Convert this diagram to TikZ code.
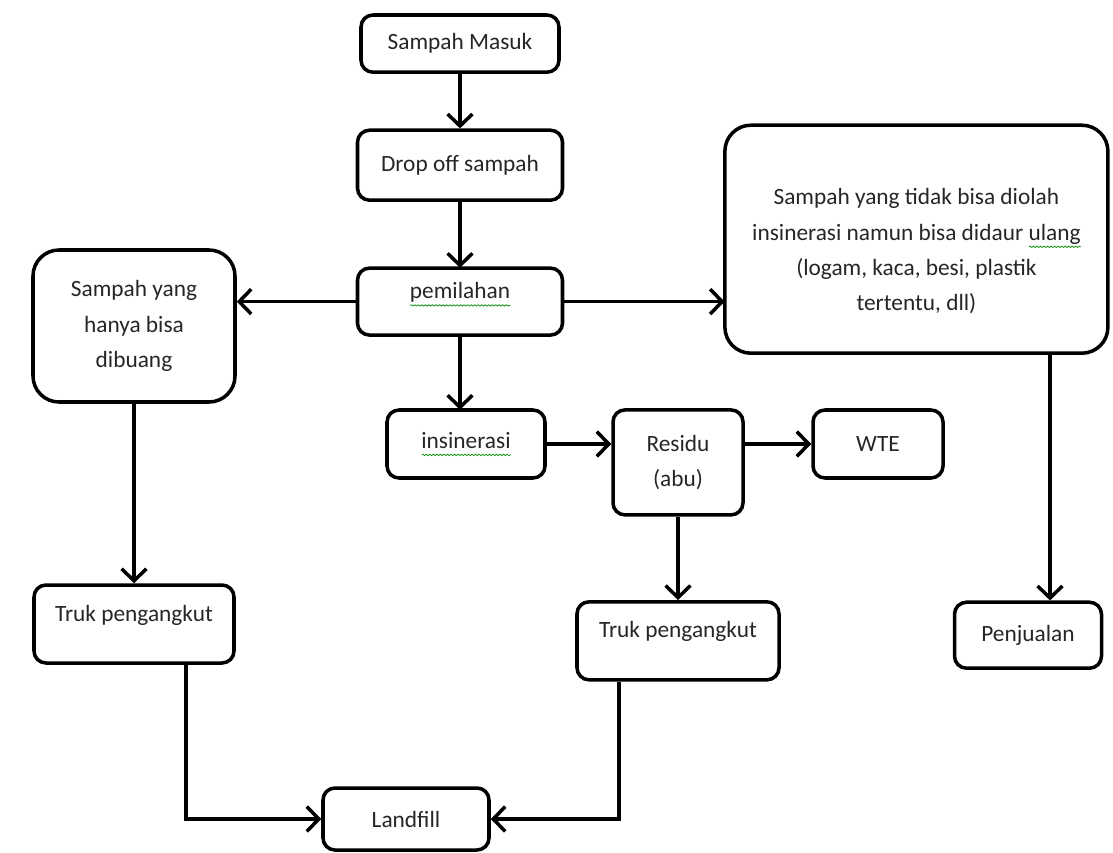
\documentclass[tikz,border=0pt]{standalone}
\usepackage{fontspec}
\setmainfont{Carlito}
\usetikzlibrary{positioning,arrows.meta,decorations.pathmorphing}

% green spell-check squiggle under a word
\newcommand{\spell}[1]{\setbox0=\hbox{#1}\rlap{\tikz[baseline=0pt,sharp corners]\draw[green!55!black,line width=0.5pt,
    decorate,decoration={snake,amplitude=0.5pt,segment length=2.5pt}] (0,-0.17) -- (\the\wd0,-0.17);}\box0}

\begin{document}
\begin{tikzpicture}[node distance=3cm,on grid,
    line width=2.5pt,
    box/.style={draw,rounded corners=0.3cm,align=center,text=black!85,
        font=\fontsize{16.6}{25}\selectfont},
    bigbox/.style={box,rounded corners=0.65cm},
    raised/.style={text height=0.4cm,text depth=0.55cm},
    flow/.style={-{Straight Barb[length=0.3cm,width=0.62cm]}}]
    \useasboundingbox (0,0) rectangle (27.825,-21.3);

    \node[box,minimum width=4.95cm,minimum height=1.43cm] (masuk) at (11.5,-1.09) {Sampah Masuk};
    \node[box,minimum width=5.125cm,minimum height=1.75cm] (drop) [below=3.04cm of masuk] {Drop off sampah};
    \node[box,raised,minimum width=5.125cm,minimum height=1.675cm] (pilah) [below=3.41cm of drop] {\spell{pemilahan}};
    \node[bigbox,minimum width=5.05cm,minimum height=3.8cm] (buang) [below left=0.61cm and 8.15cm of pilah]
        {Sampah yang\\hanya bisa\\dibuang};
    \node[bigbox,minimum width=9.575cm,minimum height=5.7cm] (daur) [above right=1.56cm and 11.41cm of pilah]
        {\rule{0pt}{1cm}Sampah yang tidak bisa diolah\\insinerasi namun bisa didaur \spell{ulang}\\(logam, kaca, besi, plastik\\tertentu, dll)};
    \node[box,minimum width=3.95cm,minimum height=1.7cm] (insin) [below right=3.56cm and 0.15cm of pilah] {\spell{insinerasi}};
    \node[box,minimum width=3.25cm,minimum height=2.625cm] (residu) [below right=0.46cm and 5.3cm of insin] {Residu\\(abu)};
    \node[box,minimum width=3.25cm,minimum height=1.7cm] (wte) [right=10.3cm of insin] {WTE};
    \node[box,raised,minimum width=5cm,minimum height=1.95cm] (truk1) [below=7.45cm of buang] {Truk pengangkut};
    \node[box,raised,minimum width=5.05cm,minimum height=1.95cm] (truk2) [below=4.46cm of residu] {Truk pengangkut};
    \node[box,minimum width=3.675cm,minimum height=1.65cm] (jual) [below right=9.9cm and 2.79cm of daur] {Penjualan};
    \node[box,minimum width=4.15cm,minimum height=1.55cm] (landfill) [below right=4.875cm and 6.8cm of truk1] {Landfill};

    \draw[flow] (masuk) -- (drop);
    \draw[flow] (drop) -- (pilah);
    \draw[flow] (pilah.west) -- (pilah.west -| buang.east);
    \draw[flow] (pilah.east) -- (pilah.east -| daur.west);
    \draw[flow] (pilah.south) -- (pilah.south |- insin.north);
    \draw[flow] (insin.east) -- (insin.east -| residu.west);
    \draw[flow] (wte.west -| residu.east) -- (wte.west);
    \draw[flow] (residu) -- (truk2);
    \draw[flow] (buang) -- (truk1);
    \draw[flow] ([xshift=0.55cm]jual.north |- daur.south) -- ([xshift=0.55cm]jual.north);
    \draw[flow] ([xshift=1.3cm]truk1.south) |- (landfill.west);
    \draw[flow] ([xshift=-1.475cm]truk2.south) |- (landfill.east);
\end{tikzpicture}
\end{document}
